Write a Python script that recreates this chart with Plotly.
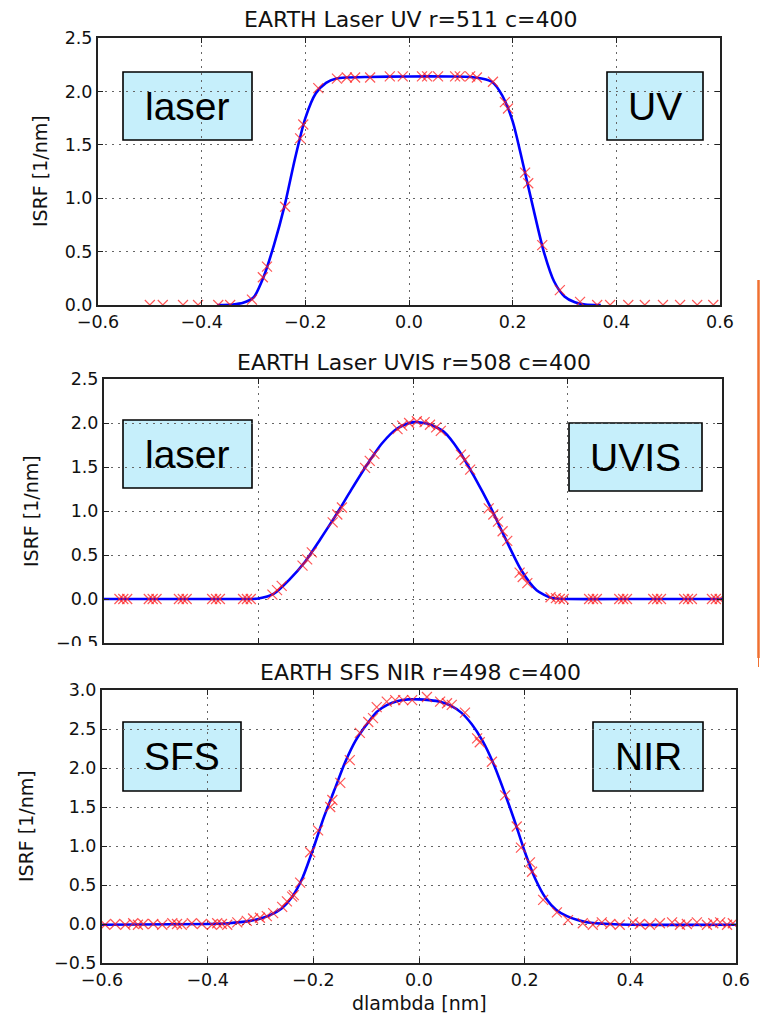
import plotly.graph_objects as go

W, H = 760, 1016

# ---------------- data ----------------
# Panel 1 : EARTH Laser UV
uv_curve_x = [-0.37, -0.34, -0.32, -0.30, -0.28, -0.26, -0.24, -0.22, -0.20, -0.18, -0.16, -0.14,
              -0.12, -0.08, 0.00, 0.08, 0.12, 0.14, 0.16, 0.18, 0.20, 0.22, 0.24, 0.26, 0.28,
              0.30, 0.32, 0.34, 0.37]
uv_curve_y = [0.0, 0.005, 0.02, 0.07, 0.27, 0.57, 0.93, 1.37, 1.75, 1.98, 2.08, 2.12,
              2.13, 2.135, 2.14, 2.14, 2.135, 2.12, 2.09, 1.96, 1.72, 1.32, 0.90, 0.50, 0.22,
              0.08, 0.025, 0.005, 0.0]
uv_mark_x = [-0.500, -0.475, -0.436, -0.407, -0.368, -0.345, -0.303, -0.282, -0.274, -0.239,
             -0.210, -0.204, -0.175, -0.139, -0.120, -0.104, -0.075, -0.037, -0.012, 0.025,
             0.035, 0.056, 0.089, 0.098, 0.118, 0.131, 0.162, 0.185, 0.191, 0.224, 0.230,
             0.257, 0.291, 0.330, 0.363, 0.388, 0.423, 0.455, 0.490, 0.523, 0.556, 0.587]
uv_mark_y = [0.0, 0.0, 0.0, 0.0, 0.0, 0.0, 0.05, 0.26, 0.36, 0.92,
             1.56, 1.69, 2.03, 2.12, 2.13, 2.13, 2.13, 2.14, 2.14, 2.14,
             2.14, 2.14, 2.14, 2.14, 2.14, 2.13, 2.09, 1.90, 1.84, 1.24, 1.14,
             0.56, 0.14, 0.03, 0.0, 0.0, 0.0, 0.0, 0.0, 0.0, 0.0, 0.0]

# Panel 2 : EARTH Laser UVIS
uvis_curve_x = [-0.40, -0.30, -0.22, -0.20, -0.18, -0.16, -0.14, -0.12, -0.10, -0.08, -0.06,
                -0.04, -0.02, 0.00, 0.02, 0.04, 0.06, 0.08, 0.10, 0.12, 0.14, 0.16, 0.18,
                0.20, 0.30, 0.40]
uvis_curve_y = [0.0, 0.0, 0.0, 0.005, 0.06, 0.22, 0.42, 0.68, 0.95, 1.24, 1.52,
                1.77, 1.94, 2.01, 1.99, 1.90, 1.68, 1.38, 1.05, 0.68, 0.33, 0.10, 0.01,
                0.0, 0.0, 0.0]
uvis_mark_x = [-0.380, -0.375, -0.370, -0.342, -0.337, -0.332, -0.303, -0.298, -0.293,
               -0.260, -0.255, -0.250, -0.220, -0.215, -0.210,
               -0.182, -0.176, -0.170, -0.143, -0.137, -0.131, -0.104, -0.098, -0.092,
               -0.062, -0.056, -0.050,
               -0.020, -0.014, -0.005, 0.005, 0.015, 0.022, 0.030, 0.036,
               0.062, 0.067, 0.074, 0.098, 0.104, 0.110, 0.116, 0.122,
               0.138, 0.142, 0.148, 0.178, 0.185, 0.190, 0.195,
               0.228, 0.233, 0.238, 0.267, 0.272, 0.277, 0.311, 0.316, 0.321,
               0.351, 0.356, 0.361, 0.387, 0.392, 0.397]
uvis_mark_y = [0.0, 0.0, 0.0, 0.0, 0.0, 0.0, 0.0, 0.0, 0.0,
               0.0, 0.0, 0.0, 0.0, 0.0, 0.0,
               0.05, 0.10, 0.15, 0.38, 0.45, 0.53, 0.87, 0.96, 1.04,
               1.49, 1.57, 1.65,
               1.93, 1.97, 2.00, 2.02, 2.01, 1.98, 1.95, 1.91,
               1.64, 1.58, 1.47, 1.03, 0.96, 0.88, 0.77, 0.66,
               0.30, 0.25, 0.18, 0.02, 0.01, 0.0, 0.0,
               0.0, 0.0, 0.0, 0.0, 0.0, 0.0, 0.0, 0.0, 0.0,
               0.0, 0.0, 0.0, 0.0, 0.0, 0.0]

# Panel 3 : EARTH SFS NIR
sfs_curve_x = [-0.60, -0.40, -0.36, -0.32, -0.30, -0.28, -0.26, -0.24, -0.22, -0.20, -0.18,
               -0.16, -0.14, -0.12, -0.10, -0.08, -0.06, -0.04, -0.02, 0.00, 0.02, 0.04,
               0.06, 0.08, 0.10, 0.12, 0.14, 0.16, 0.18, 0.20, 0.22, 0.24, 0.26, 0.28,
               0.30, 0.32, 0.36, 0.40, 0.60]
sfs_curve_y = [-0.01, 0.0, 0.01, 0.04, 0.07, 0.12, 0.20, 0.35, 0.60, 0.97, 1.37,
               1.72, 2.07, 2.35, 2.55, 2.72, 2.81, 2.86, 2.88, 2.88, 2.87, 2.85,
               2.80, 2.71, 2.56, 2.35, 2.07, 1.72, 1.34, 0.93, 0.58, 0.33, 0.18, 0.10,
               0.05, 0.02, 0.0, -0.01, -0.01]
sfs_mark_x = [-0.594, -0.575, -0.556, -0.541, -0.532, -0.522, -0.503, -0.486, -0.467, -0.458,
              -0.449, -0.430, -0.411, -0.392, -0.382, -0.373, -0.363,
              -0.344, -0.326, -0.314, -0.301, -0.288, -0.276, -0.259, -0.250, -0.240, -0.237,
              -0.225, -0.206, -0.191, -0.168, -0.164, -0.149, -0.131, -0.112, -0.096, -0.087,
              -0.080, -0.061, -0.045, -0.030, -0.013, 0.015, 0.040, 0.053, 0.062, 0.087,
              0.110, 0.115, 0.138, 0.163, 0.185, 0.193, 0.210, 0.214, 0.235, 0.261, 0.282,
              0.310, 0.329, 0.346, 0.362, 0.380, 0.405, 0.418, 0.437, 0.456, 0.479, 0.494,
              0.507, 0.526, 0.545, 0.557, 0.570, 0.583, 0.594]
sfs_mark_y = [-0.01, 0.0, -0.01, 0.01, -0.01, 0.0, 0.0, -0.01, 0.01, 0.0,
              -0.01, 0.01, 0.0, -0.01, 0.01, 0.0, -0.01,
              0.02, 0.04, 0.07, 0.08, 0.10, 0.14, 0.22, 0.29, 0.35, 0.37,
              0.53, 0.92, 1.20, 1.50, 1.59, 1.81, 2.10, 2.45, 2.59, 2.64,
              2.78, 2.85, 2.87, 2.87, 2.87, 2.91, 2.85, 2.83, 2.81, 2.71,
              2.38, 2.33, 2.08, 1.65, 1.25, 0.98, 0.79, 0.67, 0.31, 0.15, 0.05,
              0.01, -0.01, 0.02, 0.0, -0.01, 0.02, 0.0, -0.01, 0.01, 0.02, -0.01,
              0.0, 0.02, -0.01, 0.01, 0.02, -0.01, 0.01]

titles = ["EARTH Laser UV r=511 c=400", "EARTH Laser UVIS r=508 c=400", "EARTH SFS NIR r=498 c=400"]
left_labels = ["laser", "laser", "SFS"]
right_labels = ["UV", "UVIS", "NIR"]
y_title = "ISRF [1/nm]"
x_title = "dlambda [nm]"
x_ticks_wide = [-0.6, -0.4, -0.2, 0.0, 0.2, 0.4, 0.6]
x_ticks_narrow = [-0.4, -0.2, 0.0, 0.2, 0.4]
y_ticks_1 = [0.0, 0.5, 1.0, 1.5, 2.0, 2.5]
y_ticks_2 = [-0.5, 0.0, 0.5, 1.0, 1.5, 2.0, 2.5]
y_ticks_3 = [-0.5, 0.0, 0.5, 1.0, 1.5, 2.0, 2.5, 3.0]

# ---------------- layout helpers ----------------
def fx(p):
    return p / W

def fy(p):
    return 1 - p / H

panels = [
    dict(box=(98, 38, 720, 305), xr=[-0.6, 0.6], yr=[0.0, 2.5], xt=x_ticks_wide, yt=y_ticks_1,
         showx=True, cx=uv_curve_x, cy=uv_curve_y, mx=uv_mark_x, my=uv_mark_y,
         title_xy=(411, 20), ytitle_xy=(40, 171),
         lbox=(123, 72, 252, 140), rbox=(607, 72, 703, 140)),
    dict(box=(104, 379, 722, 643), xr=[-0.4, 0.4], yr=[-0.5, 2.5], xt=x_ticks_narrow, yt=y_ticks_2,
         showx=False, cx=uvis_curve_x, cy=uvis_curve_y, mx=uvis_mark_x, my=uvis_mark_y,
         title_xy=(414, 362), ytitle_xy=(31, 511),
         lbox=(123, 420, 252, 488), rbox=(569, 423, 702, 491)),
    dict(box=(102, 690, 736, 963), xr=[-0.6, 0.6], yr=[-0.5, 3.0], xt=x_ticks_wide, yt=y_ticks_3,
         showx=True, cx=sfs_curve_x, cy=sfs_curve_y, mx=sfs_mark_x, my=sfs_mark_y,
         title_xy=(420, 672), ytitle_xy=(26, 826),
         lbox=(123, 722, 241, 791), rbox=(593, 722, 703, 791)),
]

fig = go.Figure()
shapes = []
annotations = []
tick_font = dict(family="DejaVu Sans", size=17.5, color="#111111")

for i, p in enumerate(panels):
    n = "" if i == 0 else str(i + 1)
    xa, ya = "x" + n, "y" + n
    fig.add_trace(go.Scatter(x=p["cx"], y=p["cy"], mode="lines", xaxis=xa, yaxis=ya,
                             line=dict(color="#0000ff", width=2.6, shape="spline", smoothing=0.7),
                             showlegend=False, hoverinfo="skip"))
    fig.add_trace(go.Scatter(x=p["mx"], y=p["my"], mode="markers", xaxis=xa, yaxis=ya,
                             marker=dict(symbol="x-thin", size=10,
                                         line=dict(color="rgba(255,30,30,0.75)", width=1.2)),
                             showlegend=False, hoverinfo="skip"))
    x0, y0, x1, y1 = p["box"]
    axis_common = dict(showline=True, linecolor="#222222", linewidth=2, mirror="ticks",
                       ticks="inside", ticklen=5, tickcolor="#222222", tickwidth=1,
                       showgrid=True, gridcolor="#666666", gridwidth=1, griddash="2px,5px",
                       zeroline=False, tickfont=tick_font, automargin=False)
    fig.update_layout(**{
        "xaxis" + n: dict(domain=[fx(x0), fx(x1)], range=p["xr"], anchor=ya,
                          tickvals=p["xt"], tickformat=".1f", showticklabels=p["showx"],
                          **axis_common),
        "yaxis" + n: dict(domain=[fy(y1), fy(y0)], range=p["yr"], anchor=xa,
                          tickvals=p["yt"], tickformat=".1f", **axis_common),
    })
    annotations.append(dict(text=titles[i], xref="paper", yref="paper",
                            x=fx(p["title_xy"][0]), y=fy(p["title_xy"][1]),
                            xanchor="center", yanchor="middle", showarrow=False,
                            font=dict(family="DejaVu Sans", size=22, color="#111111")))
    annotations.append(dict(text=y_title, xref="paper", yref="paper", textangle=-90,
                            x=fx(p["ytitle_xy"][0]), y=fy(p["ytitle_xy"][1]),
                            xanchor="center", yanchor="middle", showarrow=False,
                            font=dict(family="DejaVu Sans", size=19, color="#111111")))
    for bx, label in ((p["lbox"], left_labels[i]), (p["rbox"], right_labels[i])):
        bx0, by0, bx1, by1 = bx
        shapes.append(dict(type="rect", xref="paper", yref="paper",
                           x0=fx(bx0), x1=fx(bx1), y0=fy(by1), y1=fy(by0),
                           fillcolor="#c6effb", line=dict(color="#000000", width=1.6),
                           layer="below"))
        annotations.append(dict(text=label, xref="paper", yref="paper",
                                x=fx((bx0 + bx1) / 2), y=fy((by0 + by1) / 2),
                                xanchor="center", yanchor="middle", showarrow=False,
                                font=dict(family="Liberation Sans", size=39, color="#000000")))

annotations.append(dict(text=x_title, xref="paper", yref="paper", x=fx(419.5), y=fy(1003),
                        xanchor="center", yanchor="middle", showarrow=False,
                        font=dict(family="DejaVu Sans", size=19, color="#111111")))

# crop edge under middle panel and the orange side rule
shapes.append(dict(type="rect", xref="paper", yref="paper", x0=0, x1=fx(100),
                   y0=fy(656), y1=fy(646), fillcolor="#ffffff", line=dict(width=0), layer="above"))
shapes.append(dict(type="line", xref="paper", yref="paper", x0=fx(758.5), x1=fx(758.5),
                   y0=fy(280), y1=fy(658), line=dict(color="#f07030", width=2.5)))
shapes.append(dict(type="line", xref="paper", yref="paper", x0=fx(758.5), x1=fx(758.5),
                   y0=fy(658), y1=fy(667), line=dict(color="#f07030", width=1)))

fig.update_layout(width=W, height=H, margin=dict(l=0, r=0, t=0, b=0, autoexpand=False),
                  paper_bgcolor="white", plot_bgcolor="white",
                  shapes=shapes, annotations=annotations, showlegend=False)

fig.write_html("out.html")
